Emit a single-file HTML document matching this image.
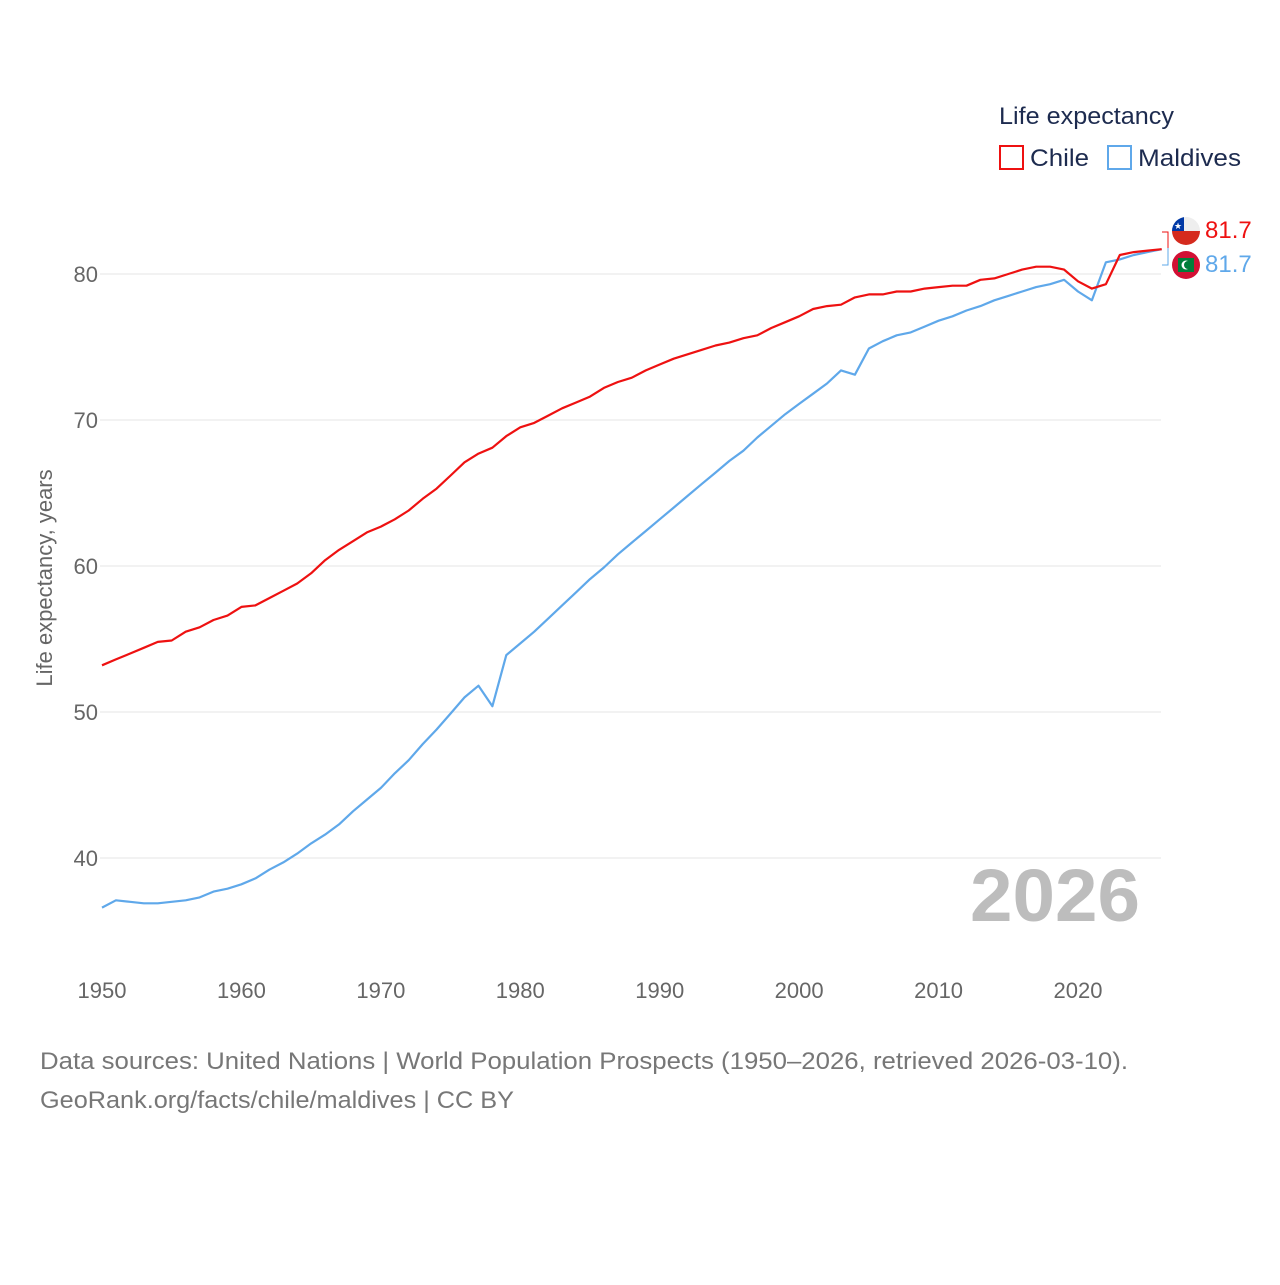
<!DOCTYPE html>
<html><head><meta charset="utf-8"><style>
html,body{margin:0;padding:0;background:#fff;}
svg text{font-family:"Liberation Sans",sans-serif;}
</style></head><body>
<svg width="1280" height="1280" viewBox="0 0 1280 1280" xmlns="http://www.w3.org/2000/svg">
<g id="grid"></g>
<g id="yticks"></g>
<g id="xticks"></g>
<text x="52" y="578" transform="rotate(-90 52 578)" text-anchor="middle" font-size="22" fill="#666">Life expectancy, years</text>
<text x="970" y="921" font-size="74" font-weight="bold" fill="#bdbdbd" textLength="170" lengthAdjust="spacingAndGlyphs">2026</text>
<g id="series"></g>
<g>
<text x="999" y="124" font-size="24" fill="#1d2b4f" textLength="175" lengthAdjust="spacingAndGlyphs">Life expectancy</text>
<g><rect x="1000" y="146" width="23" height="23" fill="none" stroke="#ee1111" stroke-width="2"/><text x="1030" y="166" font-size="24" fill="#1d2b4f" textLength="59" lengthAdjust="spacingAndGlyphs">Chile</text></g>
<g><rect x="1108" y="146" width="23" height="23" fill="none" stroke="#5fa8ea" stroke-width="2"/><text x="1138" y="166" font-size="24" fill="#1d2b4f" textLength="103" lengthAdjust="spacingAndGlyphs">Maldives</text></g>
</g>
<g>
<path d="M1162 232 H1168 V248" fill="none" stroke="#ee1111" stroke-width="1"/>
<path d="M1162 265 H1168 V248" fill="none" stroke="#5fa8ea" stroke-width="1"/>
<g>
<clipPath id="c1"><circle cx="1186" cy="231" r="14"/></clipPath>
<g clip-path="url(#c1)"><rect x="1172" y="217" width="28" height="14" fill="#eee"/><rect x="1172" y="231" width="28" height="14" fill="#d52b1e"/><rect x="1172" y="217" width="12" height="14" fill="#0039a6"/><text x="1178" y="229" font-size="9" fill="#fff" text-anchor="middle">★</text></g>
</g>
<g>
<circle cx="1186" cy="265" r="14" fill="#d21034"/><rect x="1178" y="258" width="16" height="14" fill="#007e3a"/><circle cx="1186" cy="265" r="4.5" fill="#fff"/><circle cx="1188" cy="265" r="4" fill="#007e3a"/>
</g>
<text x="1205" y="238" font-size="24" fill="#ee1111">81.7</text>
<text x="1205" y="272" font-size="24" fill="#5fa8ea">81.7</text>
</g>
<text x="40" y="1069" font-size="24" fill="#777" textLength="1088" lengthAdjust="spacingAndGlyphs">Data sources: United Nations | World Population Prospects (1950–2026, retrieved 2026-03-10).</text>
<text x="40" y="1108" font-size="24" fill="#777" textLength="474" lengthAdjust="spacingAndGlyphs">GeoRank.org/facts/chile/maldives | CC BY</text>
</svg>
<script>
const years=[];for(let y=1950;y<=2026;y++)years.push(y);
const chile=[53.2,53.6,54.0,54.4,54.8,54.9,55.5,55.8,56.3,56.6,57.2,57.3,57.8,58.3,58.8,59.5,60.4,61.1,61.7,62.3,62.7,63.2,63.8,64.6,65.3,66.2,67.1,67.7,68.1,68.9,69.5,69.8,70.3,70.8,71.2,71.6,72.2,72.6,72.9,73.4,73.8,74.2,74.5,74.8,75.1,75.3,75.6,75.8,76.3,76.7,77.1,77.6,77.8,77.9,78.4,78.6,78.6,78.8,78.8,79.0,79.1,79.2,79.2,79.6,79.7,80.0,80.3,80.5,80.5,80.3,79.5,79.0,79.3,81.3,81.5,81.6,81.7];
const maldives=[36.6,37.1,37.0,36.9,36.9,37.0,37.1,37.3,37.7,37.9,38.2,38.6,39.2,39.7,40.3,41.0,41.6,42.3,43.2,44.0,44.8,45.8,46.7,47.8,48.8,49.9,51.0,51.8,50.4,53.9,54.7,55.5,56.4,57.3,58.2,59.1,59.9,60.8,61.6,62.4,63.2,64.0,64.8,65.6,66.4,67.2,67.9,68.8,69.6,70.4,71.1,71.8,72.5,73.4,73.1,74.9,75.4,75.8,76.0,76.4,76.8,77.1,77.5,77.8,78.2,78.5,78.8,79.1,79.3,79.6,78.8,78.2,80.8,81.0,81.3,81.5,81.7];
const yTicks=[40,50,60,70,80];
const xTicks=[1950,1960,1970,1980,1990,2000,2010,2020];
const NS="http://www.w3.org/2000/svg";
const X=v=>102+(v-1950)*(976/70);
const Y=v=>858-(v-40)*14.6;
function mk(tag,attrs,parent,txt){const e=document.createElementNS(NS,tag);for(const k in attrs)e.setAttribute(k,attrs[k]);if(txt!=null)e.textContent=txt;parent.appendChild(e);return e;}
const grid=document.getElementById('grid'),yt=document.getElementById('yticks'),xt=document.getElementById('xticks'),ser=document.getElementById('series');
yTicks.forEach(t=>{
const l=mk('line',{x1:100,x2:1161,y1:Y(t),y2:Y(t),stroke:'#e6e6e6','stroke-width':1},grid);


const tx=mk('text',{x:98,y:Y(t)+8,'text-anchor':'end','font-size':22,fill:'#666'},yt,String(t));


});
xTicks.forEach(t=>{
const tx=mk('text',{x:X(t),y:998,'text-anchor':'middle','font-size':22,fill:'#666'},xt,String(t));


});
function line(vals,color,name){
const d=vals.map((v,i)=>(i?'L':'M')+X(years[i]).toFixed(1)+' '+Y(v).toFixed(1)).join(' ');
const p=mk('path',{d:d,fill:'none',stroke:color,'stroke-width':2.2,'stroke-linejoin':'round'},ser);


}
line(maldives,'#5fa8ea','maldives-line');
line(chile,'#ee1111','chile-line');
</script>
</body></html>
